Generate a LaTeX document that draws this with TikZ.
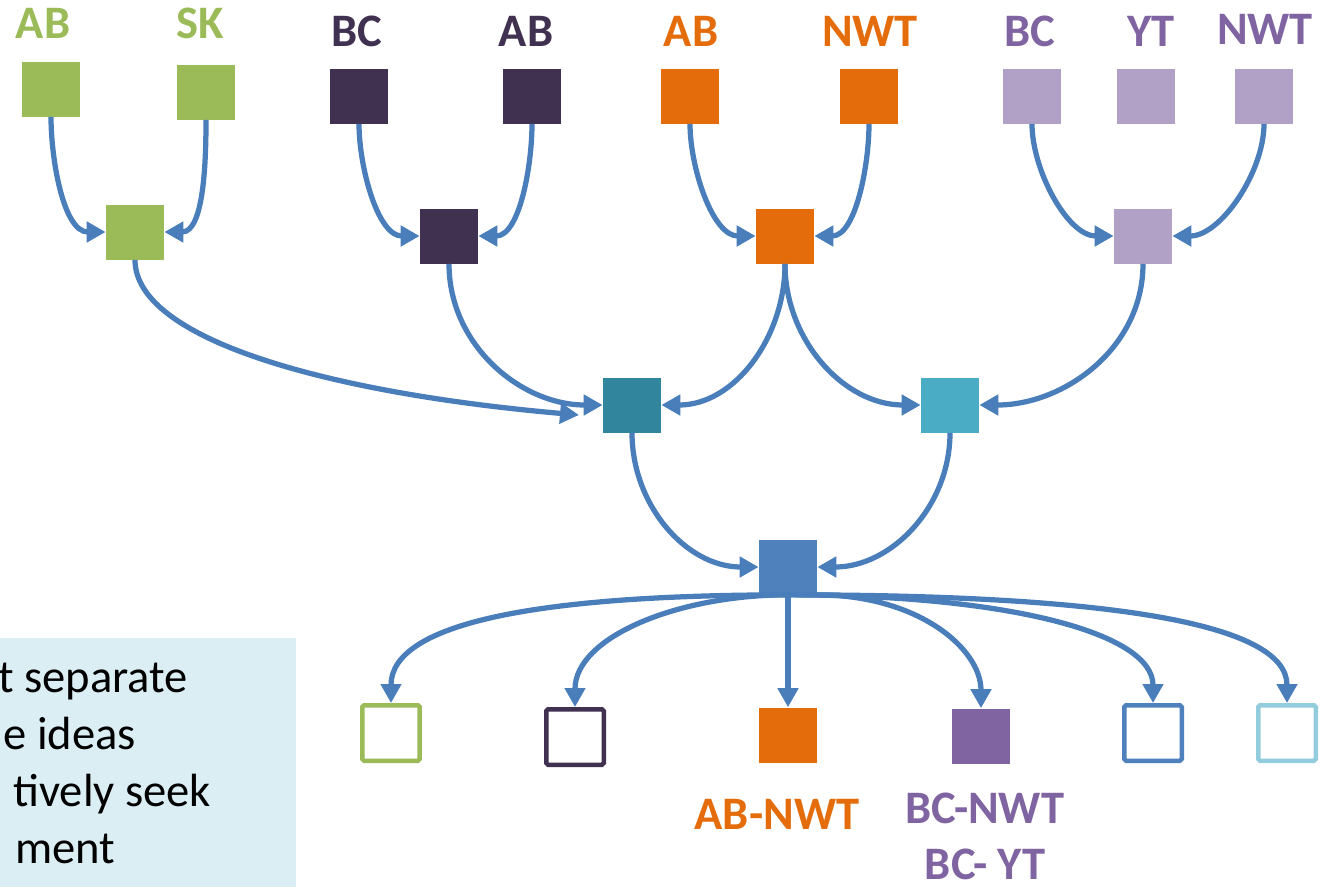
\documentclass[tikz,border=0pt]{standalone}
\usepackage{fontspec}
\setmainfont{Carlito}
\usetikzlibrary{arrows.meta}
\definecolor{grn}{HTML}{9BBB59}
\definecolor{plum}{HTML}{403151}
\definecolor{orng}{HTML}{E46C0A}
\definecolor{lilac}{HTML}{B2A1C7}
\definecolor{purp}{HTML}{8064A2}
\definecolor{tealD}{HTML}{31859C}
\definecolor{tealL}{HTML}{4BACC6}
\definecolor{blu}{HTML}{4F81BD}
\definecolor{ltblu}{HTML}{93CDDD}
\definecolor{arr}{HTML}{4A7EBB}
\definecolor{boxbg}{HTML}{DBEEF4}
\begin{document}
\begin{tikzpicture}[x=0.02cm,y=-0.02cm,
    box/.style ={rectangle, inner sep = 0pt, minimum width=1.16cm, minimum height=1.1cm},
    hollow/.style ={rectangle, draw, line width=0.09cm, rounded corners=1pt, fill=white, inner sep = 0pt, minimum width=1.15cm, minimum height=1.11cm},
    tag/.style ={inner sep = 0pt, font=\bfseries\fontsize{26.5}{32}\selectfont},
    note/.style ={anchor=base west, inner sep = 0pt, font=\fontsize{26.5}{32}\selectfont},
    link/.style ={draw=arr, line width=0.105cm, -{Triangle[length=0.38cm,width=0.4cm]}},
    drop/.style ={link, looseness=0.85}]
   \useasboundingbox (0,0) rectangle (1329,887);
   \fill[boxbg] (0,638) rectangle (296,887);
   \foreach \txt/\xx/\yy [count=\i] in {t separate/-2/692, e ideas/3/749, tively seek/13/806, ment/15/863}
     \node[note] (note\i) at (\xx,\yy) {\txt};
   \node[box,fill=grn] (g1) at (51,89) {};
   \node[box,fill=grn] (g2) at (206,92) {};
   \node[box,fill=plum] (p1) at (359,96) {};
   \node[box,fill=plum] (p2) at (532,96) {};
   \node[box,fill=orng] (o1) at (690,96) {};
   \node[box,fill=orng] (o2) at (869,96) {};
   \node[box,fill=lilac] (l1) at (1032,96) {};
   \node[box,fill=lilac] (l2) at (1146,96) {};
   \node[box,fill=lilac] (l3) at (1264,96) {};
   \node[tag,text=grn] (tg1) at (43,23) {AB};
   \node[tag,text=grn] (tg2) at (200,23) {SK};
   \node[tag,text=plum] (tp1) at (357,31) {BC};
   \node[tag,text=plum] (tp2) at (526,31) {AB};
   \node[tag,text=orng] (to1) at (691,31) {AB};
   \node[tag,text=orng] (to2) at (870,31) {NWT};
   \node[tag,text=purp] (tl1) at (1030,31) {BC};
   \node[tag,text=purp] (tl2) at (1151,31) {YT};
   \node[tag,text=purp] (tl3) at (1265,29) {NWT};
   \node[box,fill=grn] (gm) at (135,232) {};
   \node[box,fill=plum] (pm) at (449,236) {};
   \node[box,fill=orng] (om) at (785,236) {};
   \node[box,fill=lilac] (lm) at (1143,236) {};
   \node[box,fill=tealD] (tD) at (632,405) {};
   \node[box,fill=tealL] (tL) at (950,405) {};
   \node[box,fill=blu] (hub) at (788,567) {};
   \node[hollow,draw=grn] (b1) at (391,733) {};
   \node[hollow,draw=plum] (b2) at (575,737) {};
   \node[box,fill=orng] (b3) at (788,735) {};
   \node[box,fill=purp] (b4) at (981,736) {};
   \node[hollow,draw=blu] (b5) at (1153,733) {};
   \node[hollow,draw=ltblu] (b6) at (1287,733) {};
   \node[tag,text=orng] (nb3) at (777,814) {AB-NWT};
   \node[tag,text=purp,align=center] (nb4) at (985,836) {BC-NWT\\BC- YT};
   \coordinate (gend) at (579,415);
   \draw[drop] (g1.south) to [out=-90,in=180] (gm.west);
   \draw[drop] (g2.south) to [out=-90,in=0] (gm.east);
   \draw[drop] (p1.south) to [out=-90,in=180] (pm.west);
   \draw[drop] (p2.south) to [out=-90,in=0] (pm.east);
   \draw[drop] (o1.south) to [out=-90,in=180] (om.west);
   \draw[drop] (o2.south) to [out=-90,in=0] (om.east);
   \draw[drop] (l1.south) to [out=-90,in=180] (lm.west);
   \draw[drop] (l3.south) to [out=-90,in=0] (lm.east);
   \draw[link] (gm.south) to [out=-90,in=175,out distance=1.6cm,in distance=5cm] (gend);
   \draw[link] (pm.south) to [out=-90,in=180] (tD.west);
   \draw[link] (om.south) to [out=-90,in=0] (tD.east);
   \draw[link] (om.south) to [out=-90,in=180] (tL.west);
   \draw[link] (lm.south) to [out=-90,in=0] (tL.east);
   \draw[link] (tD.south) to [out=-90,in=180] (hub.west);
   \draw[link] (tL.south) to [out=-90,in=0] (hub.east);
   \draw[link] (hub.south) to [out=180,in=90,out distance=5cm,in distance=1.6cm] (b1.north);
   \draw[link] (hub.south) to [out=180,in=90,out distance=2.2cm,in distance=1.4cm] (b2.north);
   \draw[link] (hub.south) -- (b3.north);
   \draw[link] (hub.south east) to [out=0,in=90,out distance=2cm,in distance=1.2cm] (b4.north);
   \draw[link] (hub.south) to [out=0,in=90,out distance=4.4cm,in distance=1.4cm] (b5.north);
   \draw[link] (hub.south) to [out=0,in=90,out distance=6.4cm,in distance=1.6cm] (b6.north);
\end{tikzpicture}
\end{document}
